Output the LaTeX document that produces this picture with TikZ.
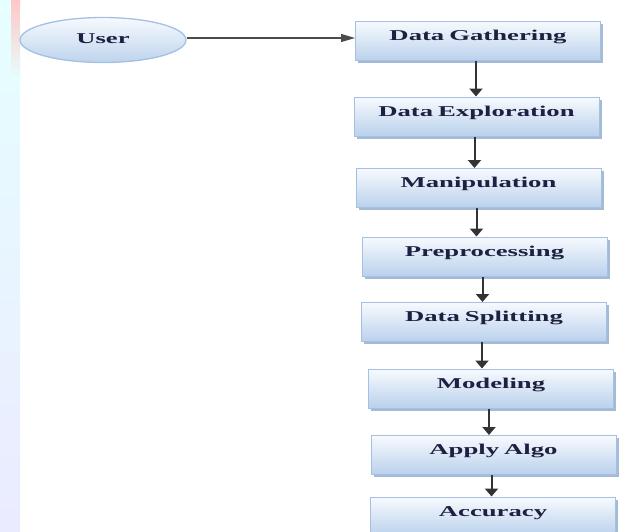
\documentclass[tikz,border=0pt]{standalone}
\usepackage{fontspec}
\setmainfont{Liberation Serif}
\newfontfamily\stagefont[FakeStretch=1.78]{Liberation Serif}
\usepackage{tikz}
\usetikzlibrary{arrows.meta}
\usetikzlibrary{shadows}
\usetikzlibrary{shapes.geometric}
\definecolor{boxtop}{HTML}{F7FAFE}
\definecolor{boxbot}{HTML}{BAD1EC}
\definecolor{boxline}{HTML}{A4C0E3}
\definecolor{boxshade}{HTML}{8FA9CA}
\definecolor{txt}{HTML}{1D2040}

\begin{document}
\begin{tikzpicture}[x=1pt,y=-1pt,
			stage/.style={rectangle, draw=boxline, line width=1pt,
				top color=boxtop, bottom color=boxbot,
				drop shadow={shadow xshift=2.5pt,shadow yshift=-2.5pt,fill=boxshade,opacity=.8},
				inner sep=0pt, text width=245pt, align=center,
				text height=19pt, text depth=20pt,
				font=\stagefont\bfseries\fontsize{15}{18}\selectfont, text=txt},
			actor/.style={ellipse, draw=boxline, line width=1.3pt,
				top color=boxtop, bottom color=boxbot!95,
				minimum width=166pt, minimum height=45pt, inner sep=0pt,
				font=\stagefont\bfseries\fontsize{15}{18}\selectfont, text=txt},
			flow/.style={draw=black!80, line width=2pt, -{Triangle[length=8pt,width=13pt]}},
			feed/.style={draw=black!70, line width=1.1pt, -{Triangle[length=14pt,width=8pt]}}]
			\useasboundingbox (0,0) rectangle (619,531);
			\clip (0,0) rectangle (619,531);
			
			% faded backdrop on the left edge
			\shade[top color=cyan!10, middle color=cyan!20!blue!8, bottom color=blue!8] (0,0) rectangle (20,531);
			\shade[top color=red!22, bottom color=cyan!10] (11,0) rectangle (20,80);
			
			\node[actor] (user) at (103,40) {\raisebox{2pt}{User}};
			
			\node[stage] (gather)  at (478,41)    {Data Gathering};
			\node[stage] (explore) at (476.5,116.5) {Data Exploration};
			\node[stage] (manip)   at (478.5,188) {Manipulation};
			\node[stage] (prep)    at (484.5,256.5) {Preprocessing};
			\node[stage] (split)   at (484,322)   {Data Splitting};
			\node[stage] (model)   at (491,388.5) {Modeling};
			\node[stage] (algo)    at (493.5,455) {Apply Algo};
			\node[stage] (acc)     at (493,516.5) {Accuracy};
			
			\draw[feed] ([yshift=2pt]user.east) -- ([yshift=2pt]user.east -| gather.west);
			
			\foreach \a/\b in {gather/explore,explore/manip,manip/prep,prep/split,split/model,model/algo,algo/acc}
			\draw[flow] ([xshift=-2pt]\a.south) -- ([xshift=-2pt]\a.south |- \b.north);
		\end{tikzpicture}
\end{document}
